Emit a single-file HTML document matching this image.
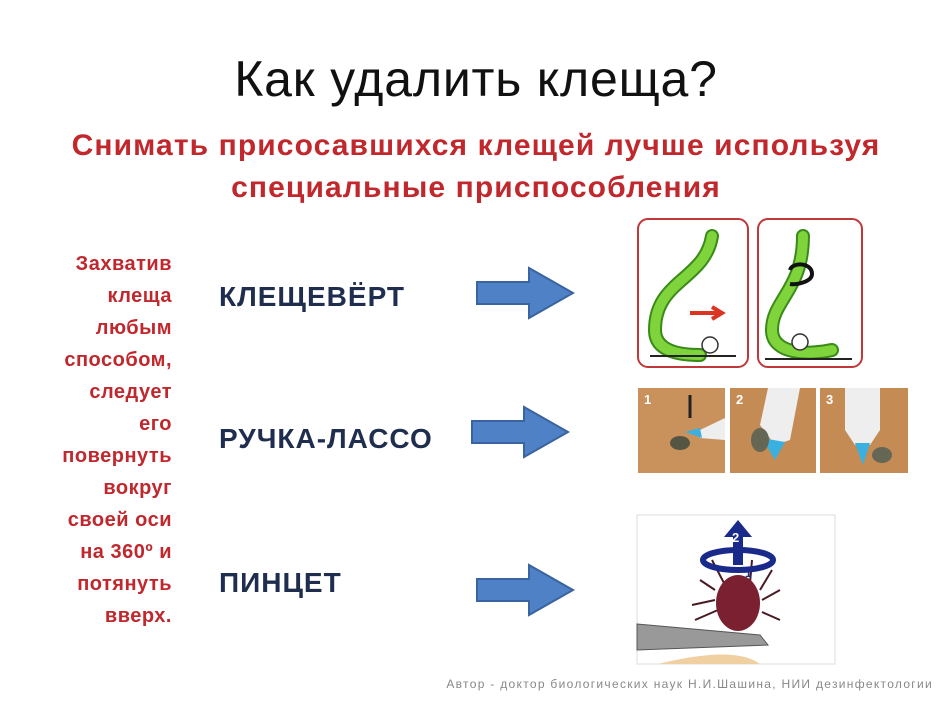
<!DOCTYPE html>
<html><head><meta charset="utf-8"><style>
body{margin:0;width:952px;height:713px;background:#fff;position:relative;overflow:hidden;font-family:"Liberation Sans","DejaVu Sans",sans-serif}
.a{position:absolute;white-space:nowrap}
.t{left:0;width:952px;text-align:center;top:50px;font-size:50px;color:#111;letter-spacing:0.8px}
.s{left:0;width:952px;text-align:center;font-weight:bold;font-size:30px;color:#c0282d;letter-spacing:1.1px}
.l{right:780px;text-align:right;font-weight:bold;font-size:20px;color:#c0282d;line-height:32px;top:248px;letter-spacing:0.5px}
.k{left:219px;font-weight:bold;font-size:28px;color:#1f2d4e;letter-spacing:1px}
</style></head><body>
<div class="a t">Как удалить клеща?</div>
<div class="a s" style="top:129px">Снимать присосавшихся клещей лучше используя</div>
<div class="a s" style="top:171px">специальные приспособления</div>
<div class="a l">Захватив<br>клеща<br>любым<br>способом,<br>следует<br>его<br>повернуть<br>вокруг<br>своей оси<br>на 360º и<br>потянуть<br>вверх.</div>
<div class="a k" style="top:281px">КЛЕЩЕВЁРТ</div>
<div class="a k" style="top:423px">РУЧКА-ЛАССО</div>
<div class="a k" style="top:567px">ПИНЦЕТ</div>
<svg class="a" style="left:0;top:0" width="952" height="713">
<defs><g id="ar"><path d="M0,-11 H52 V-25 L96,0 L52,25 V11 H0 Z" fill="#4f81c7" stroke="#3a64a0" stroke-width="2"/></g></defs>
<use href="#ar" x="477" y="293"/>
<use href="#ar" x="472" y="432"/>
<use href="#ar" x="477" y="590"/>
<rect x="638" y="219" width="110" height="148" rx="10" fill="#fff" stroke="#c0383a" stroke-width="2"/>
<rect x="758" y="219" width="104" height="148" rx="10" fill="#fff" stroke="#c0383a" stroke-width="2"/>
<path d="M712,236 C705,280 655,280 655,330 C655,355 690,355 700,355" fill="none" stroke="#3a8a1a" stroke-width="14" stroke-linecap="round"/>
<path d="M712,236 C705,280 655,280 655,330 C655,355 690,355 700,355" fill="none" stroke="#7ed43a" stroke-width="10" stroke-linecap="round"/>
<line x1="650" y1="356" x2="736" y2="356" stroke="#222" stroke-width="2"/>
<circle cx="710" cy="345" r="8" fill="#fff" stroke="#333" stroke-width="1.5"/>
<path d="M690,313 H718 M712,307 L722,313 L712,319" stroke="#d32" stroke-width="4" fill="none"/>
<path d="M803,236 C803,290 772,300 772,330 C772,355 810,355 832,350" fill="none" stroke="#3a8a1a" stroke-width="14" stroke-linecap="round"/>
<path d="M803,236 C803,290 772,300 772,330 C772,355 810,355 832,350" fill="none" stroke="#7ed43a" stroke-width="10" stroke-linecap="round"/>
<line x1="765" y1="359" x2="852" y2="359" stroke="#222" stroke-width="2"/>
<circle cx="800" cy="342" r="8" fill="#fff" stroke="#333" stroke-width="1.5"/>
<path d="M790,270 C792,262 812,262 812,274 C812,282 796,285 790,284" stroke="#111" stroke-width="4" fill="none"/>
<rect x="638" y="388" width="87" height="85" fill="#c9925c"/>
<rect x="730" y="388" width="86" height="85" fill="#c48b55"/>
<rect x="820" y="388" width="88" height="85" fill="#c48b55"/>
<text x="644" y="404" font-size="13" font-weight="bold" fill="#fff">1</text>
<text x="736" y="404" font-size="13" font-weight="bold" fill="#fff">2</text>
<text x="826" y="404" font-size="13" font-weight="bold" fill="#fff">3</text>
<path d="M690,395 V418" stroke="#222" stroke-width="3"/>
<path d="M700,430 L725,418 V440 L700,438Z" fill="#eee"/><path d="M685,432 L700,428 L702,438Z" fill="#3ab0e0"/>
<ellipse cx="680" cy="443" rx="10" ry="7" fill="#554"/>
<path d="M768,388 L800,388 L790,440 L775,445 L760,425Z" fill="#eee"/><path d="M762,438 L785,442 L775,460Z" fill="#3ab0e0"/>
<ellipse cx="760" cy="440" rx="9" ry="12" fill="#665"/>
<path d="M845,388 H880 V430 L870,445 H855 L845,430Z" fill="#eee"/><path d="M855,443 H870 L863,465Z" fill="#3ab0e0"/>
<ellipse cx="882" cy="455" rx="10" ry="8" fill="#665"/>
<rect x="637" y="515" width="198" height="149" fill="#fff" stroke="#ddd"/>
<path d="M658,664 Q735,645 760,664Z" fill="#f0d0a0"/>
<g stroke="#4a1a22" stroke-width="2" fill="none"><path d="M715,590 L700,580 M715,600 L692,605 M718,610 L695,620 M760,590 L772,570 M762,600 L780,590 M762,612 L780,620 M725,585 L712,560 M750,583 L752,560"/></g>
<ellipse cx="738" cy="603" rx="22" ry="28" fill="#7a2030"/>
<path d="M637,624 L760,635 L768,645 L637,650Z" fill="#999" stroke="#555"/>
<path d="M733,565 V537 H724 L738,520 L752,537 H743 V565Z" fill="#1a2a8a"/>
<text x="732" y="542" font-size="13" font-weight="bold" fill="#fff">2</text>
<ellipse cx="738" cy="560" rx="35" ry="10" fill="none" stroke="#1a2a8a" stroke-width="6"/>
<text x="745" y="577" font-size="12" font-weight="bold" fill="#1a2a8a">1</text>
<text x="933" y="688" font-size="12" fill="#888" text-anchor="end" letter-spacing="1.3" font-family="Liberation Sans,sans-serif">Автор - доктор биологических наук Н.И.Шашина, НИИ дезинфектологии</text>
</svg>
</body></html>
